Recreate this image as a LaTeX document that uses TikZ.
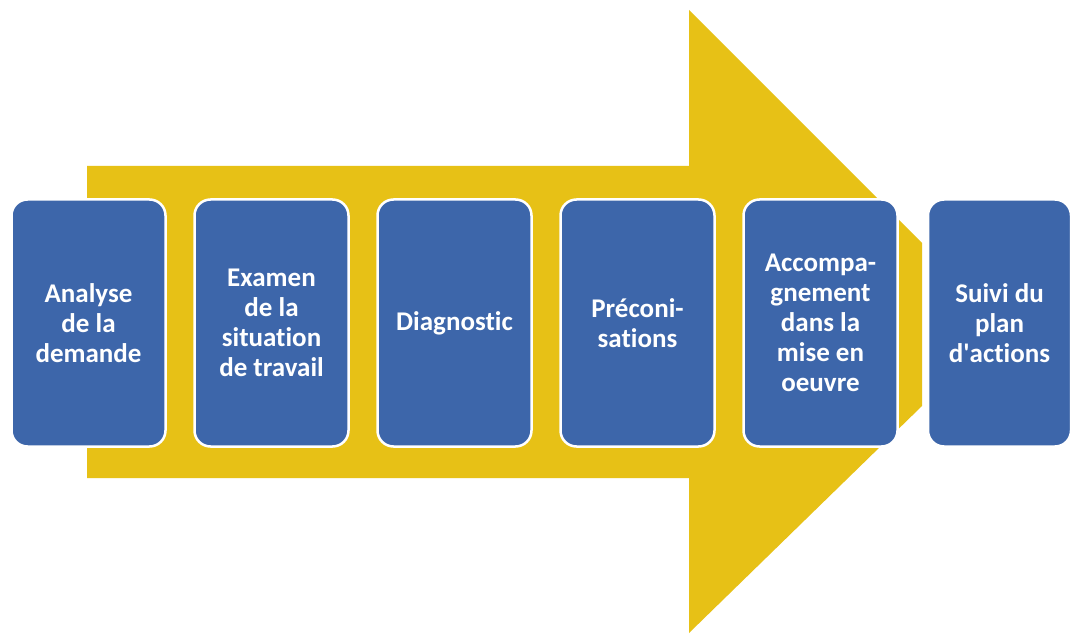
\documentclass[tikz,border=0pt]{standalone}
\usepackage{fontspec}
\setmainfont[Ligatures={NoCommon}]{Carlito}
\definecolor{arrowyellow}{RGB}{231,193,22}
\definecolor{boxblue}{RGB}{61,102,170}
\tikzset{
  stepbox/.style={rectangle, rounded corners=16pt, fill=boxblue, draw=white,
    line width=2.5pt, minimum width=154pt, minimum height=247pt, inner sep=0pt,
    text=white, align=center, font=\fontsize{27}{30}\selectfont\bfseries},
  bigarrow/.style={fill=arrowyellow, draw=none}
}
\begin{document}
\begin{tikzpicture}[x=1pt,y=-1pt]
\useasboundingbox (0,0) rectangle (1074,636);
\fill[white] (0,0) rectangle (1074,636);
\coordinate (s1) at (87,166);
\coordinate (s2) at (689,166);
\coordinate (h1) at (689,10);
\coordinate (h2) at (922,243);
\coordinate (h3) at (922,406);
\coordinate (h4) at (689,633);
\coordinate (s3) at (689,478);
\coordinate (s4) at (87,478);
\path[bigarrow] (s1) -- (s2) -- (h1) -- (h2) -- (h3) -- (h4) -- (s3) -- (s4) -- cycle;
\node[stepbox] (b1) at (88.5,323) {Analyse\\de la\\demande};
\node[stepbox] (b2) at (271.5,323) {Examen\\de la\\situation\\de travail};
\node[stepbox] (b3) at (454.5,323) {Diagnostic};
\node[stepbox] (b4) at (637.5,323) {Préconi-\\sations};
\node[stepbox] (b5) at (820.5,323) {Accompa-\\gnement\\dans la\\mise en\\oeuvre};
\node[stepbox, minimum width=143pt] (b6) at (999.5,323) {Suivi du\\plan\\d\textquotesingle actions};
\end{tikzpicture}
\end{document}
